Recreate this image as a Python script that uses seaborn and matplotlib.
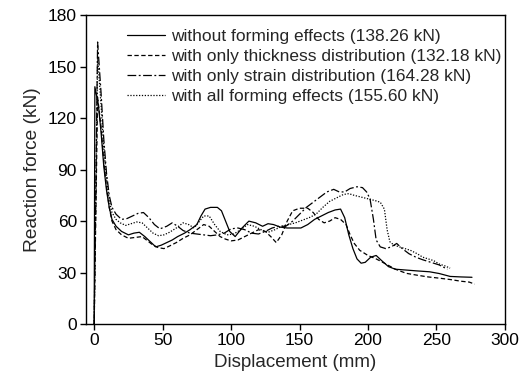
import matplotlib
matplotlib.use("Agg")
import matplotlib.pyplot as plt
import pandas as pd
import seaborn as sns

# (displacement mm, reaction force kN)
without_forming = [(0, 0), (0.5, 138.26), (3, 128), (5, 112), (7, 92), (9, 78), (11, 68), (13, 61),
                   (16, 57), (20, 54), (25, 52), (29, 53), (33, 53.5), (37, 51), (41, 48), (45, 45),
                   (49, 46), (53, 47.5), (57, 49), (61, 51), (66, 53), (70, 55), (75, 58), (78, 63),
                   (81, 67), (85, 68), (90, 68), (93, 66), (96, 60), (99, 54), (103, 51), (108, 56),
                   (113, 60), (118, 59), (123, 57), (127, 58.5), (131, 58), (136, 56.5), (141, 56),
                   (146, 56), (151, 56), (156, 58), (161, 61), (166, 63), (171, 65), (176, 66.5),
                   (180, 67), (183, 62), (186, 52), (189, 44), (192, 38), (195, 35.5), (198, 36),
                   (202, 39), (206, 40), (210, 37), (215, 33.5), (220, 32), (228, 31.5), (236, 31),
                   (245, 30.5), (252, 29.5), (260, 27.8), (268, 27.5), (276, 27.3)]

only_thickness = [(0, 0), (2.5, 132.18), (5, 115), (7, 95), (9, 80), (11, 68), (13, 60), (16, 55),
                  (20, 52), (25, 50), (30, 50.5), (35, 51), (39, 48.5), (43, 46), (47, 44.5), (51, 44),
                  (55, 45.5), (60, 47.5), (65, 50), (70, 52), (75, 55), (80, 58), (84, 57), (88, 54),
                  (92, 51), (96, 49.5), (100, 48.5), (105, 49), (110, 51), (115, 53), (120, 55),
                  (125, 54), (129, 51), (133, 47.5), (137, 52), (141, 60), (145, 66), (150, 67.5),
                  (156, 67.5), (160, 65), (164, 61), (168, 59), (172, 60), (176, 62), (180, 61),
                  (184, 58), (187, 52), (190, 47), (194, 43), (200, 40), (206, 38), (212, 35.5),
                  (220, 32), (228, 29.6), (236, 28.5), (244, 27.5), (252, 26.8), (260, 26),
                  (268, 25), (274, 24.5), (278, 23.3)]

only_strain = [(0, 0), (2.5, 164.28), (5, 135), (7, 108), (9, 88), (11, 75), (13, 68), (16, 64),
               (20, 61), (24, 61.5), (28, 63), (32, 64.5), (36, 65), (40, 62), (44, 58), (48, 55.5),
               (53, 57), (57, 59), (61, 57), (65, 54.5), (70, 53), (75, 52.5), (80, 52), (85, 51.5),
               (90, 52), (95, 53), (100, 55.5), (105, 56), (110, 55), (115, 53), (120, 52.5),
               (125, 54), (130, 56), (135, 57), (140, 57), (145, 60), (150, 64), (155, 68), (160, 71),
               (165, 74), (170, 77), (175, 78.5), (179, 77), (183, 77), (187, 79), (192, 80),
               (196, 79.5), (199, 77), (201.5, 73), (204, 61), (206, 49), (209, 45), (213, 44),
               (217, 45), (221, 47), (225, 44), (230, 41), (235, 39), (240, 37.5), (246, 36),
               (252, 34.5), (258, 32)]

all_effects = [(0, 0), (2.5, 155.6), (5, 128), (7, 103), (9, 85), (11, 72), (13, 65), (16, 61),
               (19, 59), (23, 57.5), (27, 58.5), (31, 59.5), (35, 59), (39, 56), (43, 53), (47, 51.5),
               (51, 52), (55, 53.5), (60, 56), (65, 59), (69, 58), (73, 56), (77, 60), (80, 63),
               (84, 63), (88, 58), (92, 54), (97, 52), (102, 52.5), (107, 55), (112, 58), (117, 57),
               (122, 55), (127, 53.5), (132, 55), (137, 57), (142, 58), (147, 59), (152, 60.5),
               (157, 62), (162, 64), (167, 68), (172, 71.5), (177, 73.5), (182, 75.5), (186, 76),
               (190, 75), (195, 74), (200, 73), (205, 72), (209, 71), (212, 67), (214, 55),
               (216, 48), (219, 46), (223, 45), (227, 44), (231, 43), (236, 41), (240, 39),
               (244, 38), (248, 37), (252, 35), (256, 34), (260, 32.6)]

labels = ["without forming effects (138.26 kN)",
          "with only thickness distribution (132.18 kN)",
          "with only strain distribution (164.28 kN)",
          "with all forming effects (155.60 kN)"]

x_ticks = [0, 50, 100, 150, 200, 250, 300]
y_ticks = [0, 30, 60, 90, 120, 150, 180]

rows = []
for name, pts in zip(labels, [without_forming, only_thickness, only_strain, all_effects]):
    for d, f in pts:
        rows.append({"Displacement": d, "Force": f, "Case": name})
df = pd.DataFrame(rows)

sns.set_style("ticks")
plt.rcParams["font.family"] = ["Liberation Sans", "DejaVu Sans"]
plt.rcParams["axes.linewidth"] = 1.0

fig = plt.figure(figsize=(5.21, 3.85), dpi=100)
ax = fig.add_axes([0.165, 0.158, 0.804, 0.803])

dashes = {labels[0]: "", labels[1]: (3.5, 2), labels[2]: (7, 2, 1.5, 2), labels[3]: (1, 1.3)}
palette = {lab: "black" for lab in labels}
sns.lineplot(data=df, x="Displacement", y="Force", hue="Case", style="Case",
             hue_order=labels, style_order=labels, palette=palette, dashes=dashes,
             estimator=None, sort=False, linewidth=0.9, ax=ax)

ax.set_xlim(-6, 300)
ax.set_ylim(0, 180)
ax.set_xticks(x_ticks)
ax.set_yticks(y_ticks)
ax.tick_params(direction="out", length=4, width=1, labelsize=12.5, colors="black", pad=2.5)
for s in ax.spines.values():
    s.set_visible(True)
    s.set_color("black")
ax.set_xlabel("Displacement (mm)", fontsize=13.5, labelpad=4)
ax.set_ylabel("Reaction force (kN)", fontsize=13.8, labelpad=5)

handles, labs = ax.get_legend_handles_labels()
ax.legend(handles, labs, loc="upper left", bbox_to_anchor=(0.098, 0.955), frameon=False,
          fontsize=12.5, handlelength=2.2, handletextpad=0.35, labelspacing=0.27,
          borderpad=0, borderaxespad=0)

fig.savefig("out.png", dpi=100)
